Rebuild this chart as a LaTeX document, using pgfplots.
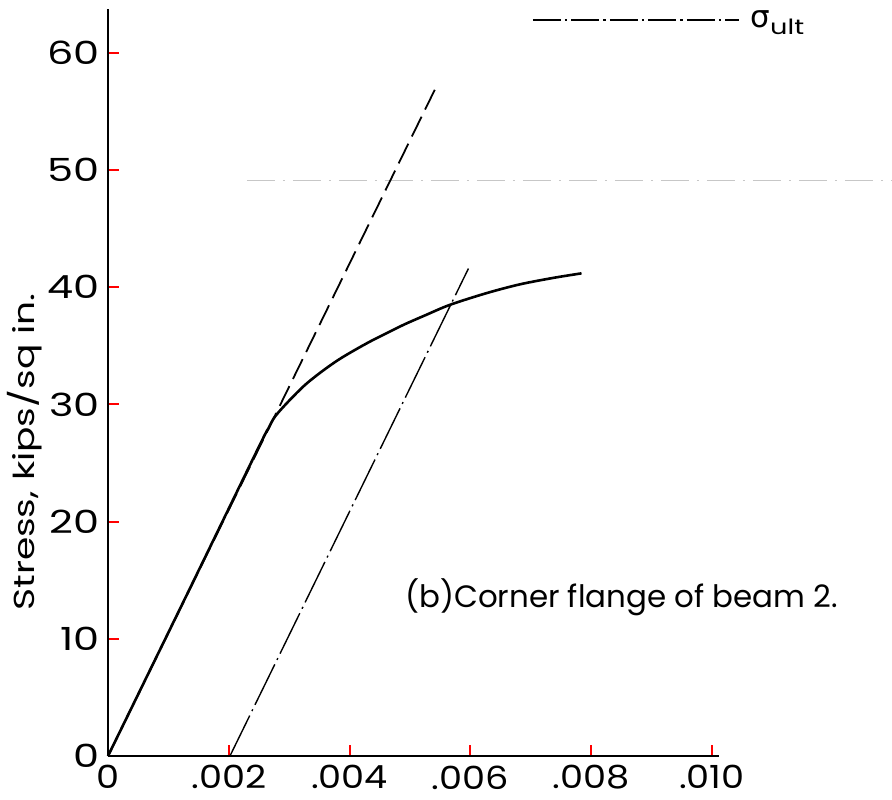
\documentclass[border=0pt]{standalone}
\usepackage{pgfplots}
\pgfplotsset{compat=1.18}
\usepackage{fontspec}
\setmainfont{Poppins}
\newfontfamily\wide[FakeStretch=1.3]{Poppins}
\newfontfamily\wideb[FakeStretch=1.15]{Poppins}
\newfontfamily\grk{DejaVu Sans}
\begin{document}
\begin{tikzpicture}
\useasboundingbox (-108bp,-44bp) rectangle (784bp,756bp);
\begin{axis}[
  at={(0bp,0bp)}, anchor=south west,
  scale only axis, width=611bp, height=747bp,
  xmin=0, xmax=0.01012, ymin=0, ymax=63.75,
  axis x line*=bottom, axis y line*=left,
  axis line style={-, line width=2.2bp},
  tick align=inside,
  major tick length=11bp,
  tick style={red, line width=2bp},
  scaled x ticks=false,
  xtick={0,0.002,0.004,0.006,0.008,0.010},
  xticklabels={0,.002,.004,.006,.008,.010},
  ytick={0,10,20,30,40,50,60},
  yticklabels={0,10,20,30,40,50,60},
  xticklabel style={font=\wideb\fontsize{32}{36}\selectfont, yshift=-6bp},
  yticklabel style={font=\wide\fontsize{32}{36}\selectfont, xshift=-5bp},
  ylabel={Stress, kips/sq in.},
  ylabel style={font=\wide\fontsize{29}{32}\selectfont, at={(axis description cs:-0.136,0.407)}, anchor=center},
  clip=false,
  legend style={draw=none, fill=none, at={(axis description cs:0.694,0.985)}, anchor=west, inner sep=0pt, outer sep=0pt},
  legend cell align=left,
  legend image code/.code={\draw[#1] (0bp,0bp) -- (206bp,0bp);},
]
\addlegendimage{black, line width=1.6bp, dash pattern=on 28bp off 4bp on 2.5bp off 4bp}
\addlegendentry{\hspace*{9bp}{\grk\fontsize{31}{34}\selectfont σ}\raisebox{-7bp}{\wide\fontsize{21}{24}\selectfont ult}}
% faint sigma_ult line
\addplot[forget plot, black!22, line width=0.9bp, dash pattern=on 28bp off 8bp on 2bp off 8bp] coordinates {(0.0023,49.1) (0.01298,49.1)};
% tangent (dashed)
\addplot[forget plot, black, line width=1.8bp, dash pattern=on 22bp off 8bp] coordinates {(0,0) (0.00545,57.25)};
% offset line (dash-dot)
\addplot[forget plot, black, line width=1.4bp, dash pattern=on 45bp off 5bp on 2bp off 5bp] coordinates {(0.00202,0) (0.00597,41.6)};
% stress-strain curve
\addplot[forget plot, black, line width=2.6bp, smooth] coordinates {
(0,0) (0.0013,13.7) (0.0025,26.4) (0.002657,27.96) (0.002765,28.96) (0.002985,30.24)
(0.003262,31.66) (0.003538,32.80) (0.003813,33.80) (0.004089,34.65) (0.004366,35.44)
(0.004641,36.15) (0.004917,36.85) (0.00525,37.6) (0.005662,38.5) (0.006269,39.5)
(0.006821,40.25) (0.007373,40.8) (0.007843,41.19)};
\node[anchor=west, font=\fontsize{31}{34}\selectfont, inner sep=0pt] at (axis cs:0.00492,13.57) {(b)Corner flange of beam 2.};
\end{axis}
\end{tikzpicture}
\end{document}
